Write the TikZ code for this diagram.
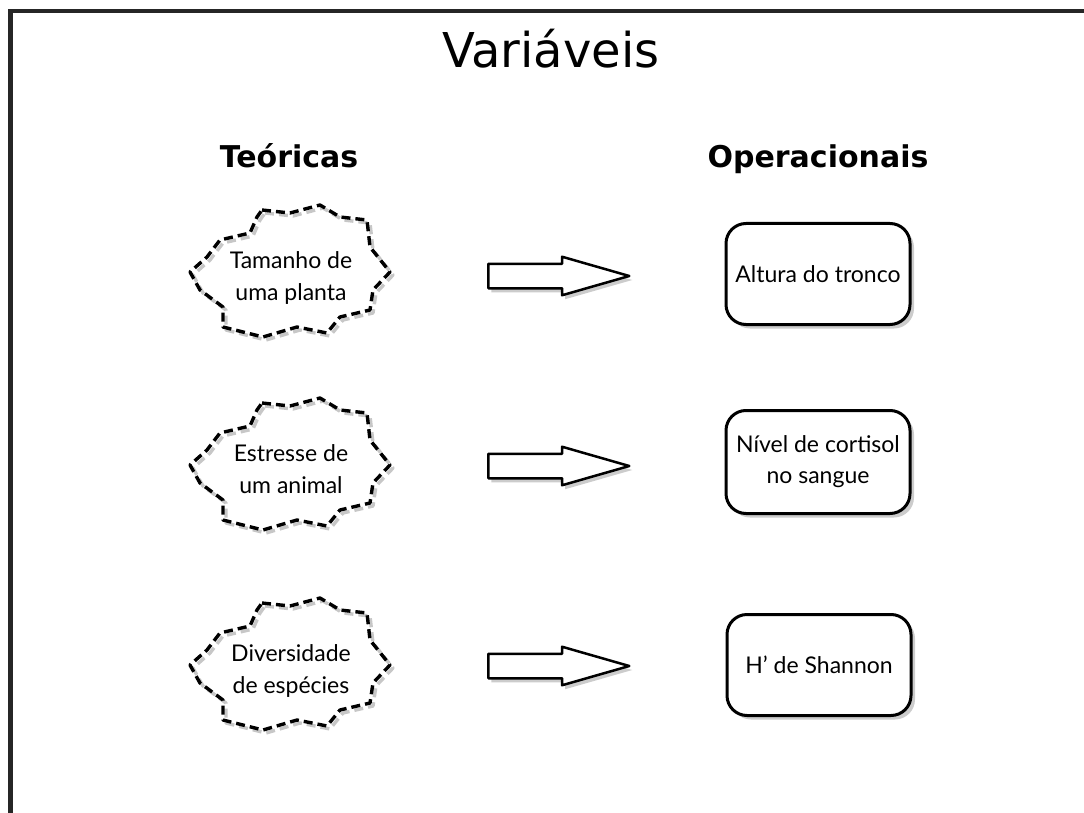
\documentclass[tikz,border=0pt]{standalone}
\usepackage{fontspec}
\setmainfont{Lato}
\newfontfamily\headfont{DejaVu Sans}
\usetikzlibrary{shapes.arrows,shadows}
\tikzset{
  frameline/.style={line width=4.5pt, black!85},
  starline/.style={line width=3.4pt, dash pattern=on 9pt off 5pt, line join=round},
  starshade/.style={starline, draw=black!22},
  startext/.style={align=center, font=\fontsize{23}{32}\selectfont},
  opbox/.style={draw, line width=3pt, rounded corners=20pt, fill=white,
    minimum width=184pt, minimum height=101pt, align=center,
    font=\fontsize{23}{31}\selectfont,
    drop shadow={opacity=0.4, shadow xshift=4pt, shadow yshift=-4pt}},
  blockarrow/.style={single arrow, draw, line width=2.5pt, fill=white,
    minimum height=141pt, inner xsep=0pt, inner ysep=11pt, anchor=tail,
    single arrow head extend=7pt, single arrow tip angle=32, line join=round,
    drop shadow={opacity=0.4, shadow xshift=3pt, shadow yshift=-4pt}},
  header/.style={font=\headfont\bfseries\fontsize{30}{36}\selectfont, anchor=base},
  titletext/.style={font=\headfont\fontsize{48}{56}\selectfont, anchor=base},
  starburst/.pic={
    \path[pic actions] (-28,-62) -- (0,-59) -- (30,-67) -- (50,-55) -- (77,-52)
      -- (80,-25) -- (100,0) -- (83,18) -- (80,38) -- (50,45) -- (37,61)
      -- (7,55) -- (-27,65) -- (-67,55) -- (-67,35) -- (-90,18) -- (-100,0)
      -- (-83,-15) -- (-70,-32) -- (-40,-39) -- (-33,-55) -- cycle;
  }
}
\begin{document}
\begin{tikzpicture}[x=1pt, y=-1pt]
\useasboundingbox (0,0) rectangle (1084,813);
% frame
\draw[frameline] (1084,11) -- (10.5,11) -- (10.5,813);
% title
\node[titletext] (title) at (551,68) {Variáveis};
% headers
\node[header] (teo) at (289,168) {Teóricas};
\node[header] (ope) at (818,168) {Operacionais};
% stars
\foreach \i/\y in {1/272, 2/465, 3/665}{
  \pic[starshade] at (293,\y+3) {starburst};
  \pic[starline, draw=black] (s\i) at (290,\y) {starburst};
}
\node[startext] (t1) at (291,278) {Tamanho de\\uma planta};
\node[startext] (t2) at (291,469) {Estresse de\\um animal};
\node[startext] (t3) at (291,671) {Diversidade\\de espécies};
% arrows
\node[blockarrow] (a1) at (487,276) {};
\node[blockarrow] (a2) at (487,466) {};
\node[blockarrow] (a3) at (487,666) {};
% operational boxes
\node[opbox] (o1) at (818,274) {Altura do tronco};
\node[opbox, minimum height=103pt] (o2) at (818,462) {Nível de cortisol\\no sangue};
\node[opbox] (o3) at (819,665) {H' de Shannon};
\end{tikzpicture}
\end{document}
